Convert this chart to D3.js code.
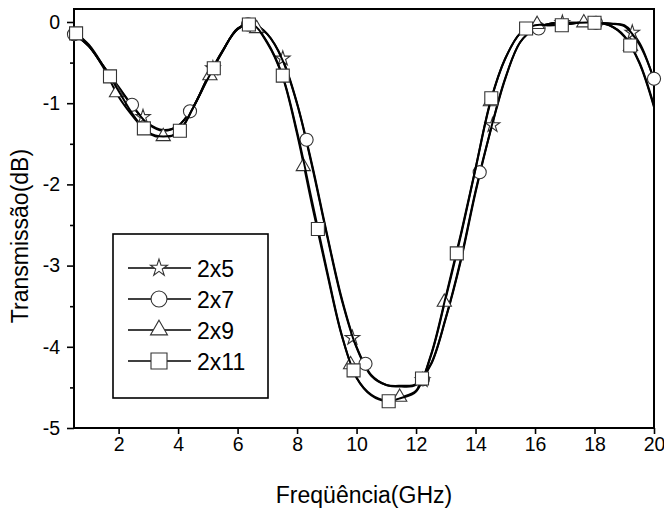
<!DOCTYPE html>
<html lang="en">
<head>
<meta charset="UTF-8">
<title>Transmissao x Frequencia</title>
<style>
    body { margin: 0; background: #fff; }
    text { font-family: 'Liberation Sans', Arial, sans-serif; fill: #000; }
</style>
</head>
<body>
<svg class="chart"></svg>
<script src="https://d3js.org/d3.v7.min.js"></script>
<script>
// curve samples (GHz / dB)
var freq = [0.5, 1, 1.5, 2, 2.5, 3, 3.5, 4, 4.5, 5, 5.5, 6, 6.5, 7, 7.5, 8, 8.5, 9, 9.5, 10,
            10.5, 11, 11.5, 12, 12.5, 13, 13.5, 14, 14.5, 15, 15.5, 16, 16.5, 17, 17.5, 18, 18.5, 19, 19.5, 20];

var db2x5 = [-0.14, -0.30, -0.55, -0.80, -1.05, -1.25, -1.33, -1.28, -1.05, -0.68, -0.35, -0.09, -0.02, -0.15, -0.45, -1.00, -1.75, -2.60, -3.40, -4.00,
             -4.35, -4.47, -4.49, -4.47, -4.22, -3.65, -2.95, -2.10, -1.35, -0.70, -0.25, -0.08, -0.02, -0.01, -0.01, -0.01, -0.02, -0.04, -0.25, -0.72];
var db2x7 = [-0.15, -0.30, -0.55, -0.81, -1.05, -1.26, -1.34, -1.28, -1.05, -0.68, -0.35, -0.09, -0.02, -0.15, -0.46, -1.01, -1.77, -2.62, -3.42, -4.01,
             -4.36, -4.47, -4.48, -4.46, -4.21, -3.64, -2.93, -2.08, -1.34, -0.69, -0.25, -0.08, -0.02, -0.01, -0.01, -0.01, -0.02, -0.05, -0.27, -0.70];
var db2x9 = [-0.12, -0.29, -0.57, -0.92, -1.17, -1.37, -1.42, -1.36, -1.06, -0.69, -0.36, -0.08, -0.03, -0.26, -0.66, -1.38, -2.25, -3.08, -3.86, -4.38,
             -4.59, -4.66, -4.62, -4.54, -4.11, -3.40, -2.64, -1.81, -0.99, -0.45, -0.14, -0.04, -0.04, -0.03, -0.01, -0.01, -0.04, -0.17, -0.49, -1.03];
var db2x11 = [-0.12, -0.28, -0.55, -0.85, -1.15, -1.36, -1.41, -1.36, -1.06, -0.70, -0.36, -0.08, -0.03, -0.25, -0.65, -1.35, -2.20, -3.05, -3.85, -4.38,
              -4.60, -4.67, -4.63, -4.55, -4.10, -3.38, -2.62, -1.80, -0.98, -0.45, -0.14, -0.04, -0.04, -0.03, -0.01, -0.01, -0.04, -0.18, -0.50, -1.05];

// symbol positions
var mark2x5Freq = [2.82, 5.17, 7.52, 9.86, 12.22, 14.57, 16.92, 19.27];
var mark2x5Db = [-1.17, -0.57, -0.45, -3.89, -4.41, -1.27, -0.01, -0.13];
var mark2x7Freq = [0.5, 2.45, 4.4, 6.35, 8.32, 10.3, 12.23, 14.14, 16.12, 18.05, 20.0];
var mark2x7Db = [-0.15, -1.02, -1.10, -0.03, -1.45, -4.21, -4.40, -1.85, -0.08, -0.01, -0.70];
var mark2x9Freq = [1.93, 3.5, 5.07, 6.64, 8.21, 9.8, 11.45, 12.95, 14.5, 16.07, 17.64, 19.21];
var mark2x9Db = [-0.87, -1.41, -0.66, -0.08, -1.78, -4.22, -4.62, -3.45, -0.98, -0.03, -0.01, -0.30];
var mark2x11Freq = [0.57, 1.71, 2.85, 4.06, 5.2, 6.38, 7.52, 8.7, 9.9, 11.08, 12.2, 13.37, 14.53, 15.7, 16.9, 18.0, 19.2];
var mark2x11Db = [-0.14, -0.67, -1.31, -1.34, -0.57, -0.03, -0.66, -2.55, -4.29, -4.67, -4.39, -2.85, -0.94, -0.08, -0.04, -0.01, -0.29];

var xTicks = [2, 4, 6, 8, 10, 12, 14, 16, 18, 20];
var yTicks = [-5, -4, -3, -2, -1, 0];
var yMinorTicks = [-4.5, -3.5, -2.5, -1.5, -0.5];
var seriesNames = ['2x5', '2x7', '2x9', '2x11'];

var series = [
    { name: seriesNames[0], type: d3.symbolStar, db: db2x5, mx: mark2x5Freq, my: mark2x5Db },
    { name: seriesNames[1], type: d3.symbolCircle, db: db2x7, mx: mark2x7Freq, my: mark2x7Db },
    { name: seriesNames[2], type: d3.symbolTriangle, db: db2x9, mx: mark2x9Freq, my: mark2x9Db },
    { name: seriesNames[3], type: d3.symbolSquare, db: db2x11, mx: mark2x11Freq, my: mark2x11Db }
];

// symbol area for plot / legend
function symSize(type, big) {
    if (type === d3.symbolStar) return big ? 90 : 66;
    if (type === d3.symbolCircle) return big ? 200 : 135;
    if (type === d3.symbolTriangle) return big ? 125 : 88;
    return big ? 256 : 169;
}

var settings = {
    margin: { top: 9, right: 10, bottom: 83, left: 74 },
    width: 580,
    height: 419
};

var x = d3.scaleLinear().domain([0.5, 20]).range([0, settings.width]);
var y = d3.scaleLinear().domain([-5, 0.16]).range([settings.height, 0]);

var svg = d3.select('.chart')
    .attr('width', 664)
    .attr('height', 511);

var chart = svg.append('g')
    .attr('transform', `translate(${settings.margin.left}, ${settings.margin.top})`);

// axes
var xAxis = chart.append('g')
    .attr('transform', `translate(0, ${settings.height})`)
    .call(d3.axisBottom(x).tickValues(xTicks).tickSize(6).tickPadding(3).tickFormat(d3.format('d')));

var yAxis = chart.append('g')
    .call(d3.axisLeft(y).tickValues(yTicks).tickSize(7).tickPadding(7).tickFormat(d => d));

chart.append('g')
    .call(d3.axisLeft(y).tickValues(yMinorTicks).tickSize(4).tickFormat(''));

chart.selectAll('.domain').remove();
chart.selectAll('.tick line').attr('stroke', '#000').attr('stroke-width', 1.6);
chart.selectAll('.tick text')
    .style('font-family', "'Liberation Sans', Arial, sans-serif")
    .style('font-size', '19.5px')
    .attr('fill', '#000');

chart.append('rect')
    .attr('x', 0)
    .attr('y', 0)
    .attr('width', settings.width)
    .attr('height', settings.height)
    .attr('fill', 'none')
    .attr('stroke', '#000')
    .attr('stroke-width', 2);

// series
var line = d3.line()
    .x(d => x(d[0]))
    .y(d => y(d[1]))
    .curve(d3.curveCatmullRom.alpha(0.5));

series.forEach(function (s) {
    var pts = freq.map((f, i) => [f, s.db[i]]);
    chart.append('path')
        .datum(pts)
        .attr('d', line)
        .attr('fill', 'none')
        .attr('stroke', '#000')
        .attr('stroke-width', 2);

    var sym = d3.symbol().type(s.type).size(symSize(s.type, false));
    chart.selectAll(null)
        .data(s.mx.map((f, i) => [f, s.my[i]]))
        .enter()
        .append('path')
        .attr('d', sym)
        .attr('transform', d => `translate(${x(d[0])}, ${y(d[1])})`)
        .attr('fill', '#fff')
        .attr('stroke', '#333')
        .attr('stroke-width', 1.1);
});

// legend
var legend = svg.append('g').attr('transform', 'translate(113, 234)');

legend.append('rect')
    .attr('width', 155)
    .attr('height', 164)
    .attr('fill', '#fff')
    .attr('stroke', '#000')
    .attr('stroke-width', 1.6);

series.forEach(function (s, i) {
    var ly = 34 + i * 31;
    legend.append('line')
        .attr('x1', 15).attr('x2', 78)
        .attr('y1', ly).attr('y2', ly)
        .attr('stroke', '#000')
        .attr('stroke-width', 1.6);
    legend.append('path')
        .attr('d', d3.symbol().type(s.type).size(symSize(s.type, true)))
        .attr('transform', `translate(46, ${ly})`)
        .attr('fill', '#fff')
        .attr('stroke', '#333')
        .attr('stroke-width', 1.1);
    legend.append('text')
        .attr('x', 84)
        .attr('y', ly + 9)
        .style('font-size', '23px')
        .text(s.name);
});

// axis titles
svg.append('text')
    .attr('x', settings.margin.left + settings.width / 2)
    .attr('y', 503)
    .attr('text-anchor', 'middle')
    .style('font-size', '23px')
    .text('Freqüência(GHz)');

svg.append('text')
    .attr('transform', 'translate(28, 236) rotate(-90)')
    .attr('text-anchor', 'middle')
    .style('font-size', '23px')
    .text('Transmissão(dB)');
</script>
</body>
</html>
